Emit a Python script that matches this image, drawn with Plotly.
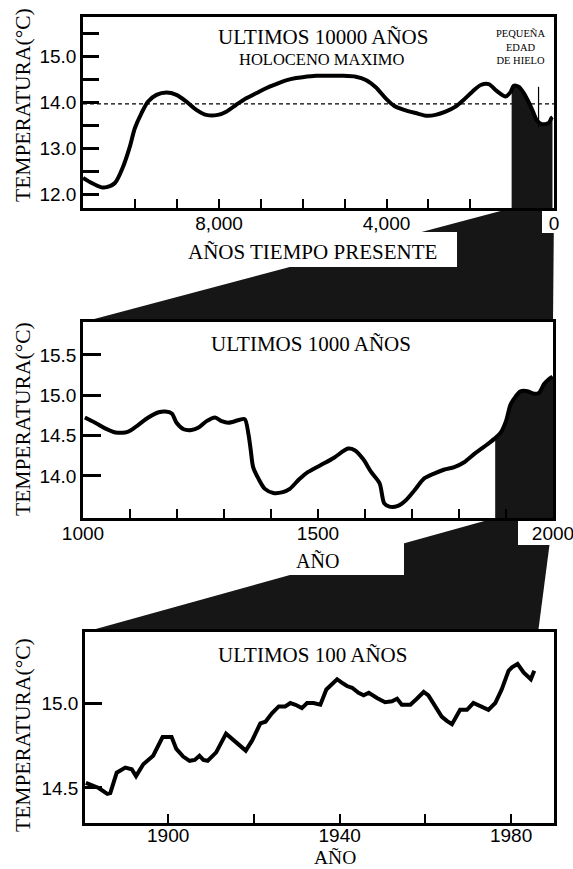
import numpy as np
import plotly.graph_objects as go

# ---------------- data ----------------
# Panel 1: last 10000 years (years before present)
bp1 = [11247, 11043, 10805, 10686, 10488, 10290, 10131, 10012, 9852, 9695,
       9495, 9257, 9019, 8781, 8543, 8305, 8029, 7829, 7590, 7352,
       7114, 6876, 6638, 6400, 6162, 6005, 5686, 5369, 5052, 4733,
       4495, 4257, 4019, 3821, 3583, 3305, 3028, 2829, 2590, 2352,
       2155, 1956, 1750, 1560, 1369, 1155, 1036, 964, 845, 726,
       607, 488, 417, 298, 131, 60, 36]
t1 = [12.35, 12.24, 12.145, 12.15, 12.24, 12.60, 13.03, 13.43, 13.76, 14.01,
      14.155, 14.205, 14.155, 14.01, 13.83, 13.72, 13.72, 13.79, 13.94, 14.08,
      14.19, 14.30, 14.39, 14.47, 14.52, 14.54, 14.57, 14.57, 14.57, 14.55,
      14.48, 14.32, 14.08, 13.92, 13.83, 13.76, 13.70, 13.72, 13.79, 13.90,
      14.05, 14.22, 14.37, 14.39, 14.24, 14.12, 14.22, 14.35, 14.33, 14.20,
      14.0, 13.76, 13.61, 13.52, 13.54, 13.65, 13.67]
baseline1 = 13.96
shade1_start_bp = 1012
lia_mark_bp = 369
lia_mark_temps = [14.33, 13.45]

# Panel 2: last 1000 years
yr2 = [1004, 1026, 1047, 1069, 1090, 1100, 1118, 1139, 1161, 1175,
       1189, 1199, 1214, 1231, 1246, 1263, 1281, 1295, 1309, 1330,
       1344, 1352, 1357, 1362, 1373, 1387, 1405, 1425, 1440, 1460,
       1479, 1514, 1535, 1564, 1578, 1596, 1613, 1631, 1641, 1652,
       1670, 1687, 1705, 1726, 1747, 1769, 1790, 1811, 1832, 1853,
       1875, 1889, 1900, 1910, 1921, 1931, 1946, 1960, 1970, 1981,
       1991, 1999]
t2 = [14.725, 14.66, 14.59, 14.54, 14.54, 14.56, 14.635, 14.725, 14.79, 14.80,
      14.775, 14.66, 14.58, 14.57, 14.60, 14.68, 14.725, 14.68, 14.66, 14.69,
      14.705, 14.52, 14.315, 14.11, 13.97, 13.84, 13.79, 13.80, 13.84, 13.96,
      14.05, 14.16, 14.23, 14.34, 14.32, 14.21, 14.05, 13.91, 13.66, 13.62,
      13.63, 13.70, 13.82, 13.97, 14.03, 14.08, 14.11, 14.17, 14.27, 14.36,
      14.46, 14.54, 14.68, 14.89, 14.99, 15.05, 15.05, 15.02, 15.03, 15.14,
      15.20, 15.23]
shade2_start_year = 1877

# Panel 3: last 100 years
yr3 = [1880.8, 1881.9, 1883.8, 1885.8, 1886.5, 1888.0, 1890.0, 1891.5, 1892.5, 1894.2,
       1896.5, 1898.7, 1900.8, 1901.9, 1903.5, 1905.0, 1906.2, 1907.3, 1908.2, 1909.2,
       1911.2, 1913.5, 1915.8, 1918.1, 1919.6, 1921.5, 1922.7, 1924.2, 1925.8, 1927.3,
       1928.5, 1929.7, 1931.2, 1932.4, 1933.9, 1935.5, 1936.9, 1937.8, 1939.4, 1940.5,
       1941.7, 1942.9, 1944.4, 1945.6, 1946.8, 1948.7, 1950.6, 1952.2, 1953.4, 1954.5,
       1956.5, 1958.0, 1959.6, 1960.7, 1962.3, 1963.8, 1965.0, 1966.2, 1968.1, 1969.7,
       1971.2, 1972.8, 1974.7, 1976.3, 1977.8, 1979.4, 1980.2, 1981.5, 1982.9, 1984.6,
       1985.4]
t3 = [14.53, 14.52, 14.50, 14.465, 14.47, 14.59, 14.62, 14.61, 14.57, 14.64,
      14.69, 14.80, 14.80, 14.73, 14.685, 14.66, 14.665, 14.69, 14.665, 14.66,
      14.71, 14.82, 14.77, 14.72, 14.78, 14.88, 14.89, 14.94, 14.98, 14.98,
      15.0, 14.99, 14.97, 15.0, 15.0, 14.99, 15.08, 15.10, 15.14, 15.12,
      15.10, 15.09, 15.06, 15.045, 15.06, 15.03, 15.005, 15.01, 15.025, 14.99,
      14.99, 15.025, 15.065, 15.045, 14.98, 14.92, 14.895, 14.875, 14.96, 14.96,
      15.0, 14.98, 14.96, 15.0, 15.08, 15.19, 15.21, 15.23, 15.18, 15.14,
      15.19]
wedge2_end_year = 1986.3

# tick labels
x1_ticks = [10000, 9000, 8000, 7000, 6000, 5000, 4000, 3000, 2000, 0]
x1_text = ["", "", "8,000", "", "", "", "4,000", "", "", "0"]
y1_ticks = [12.0, 12.5, 13.0, 13.5, 14.0, 14.5, 15.0, 15.5]
y1_text = ["12.0", "", "13.0", "", "14.0", "", "15.0", ""]
x2_ticks = [1000, 1100, 1200, 1300, 1400, 1500, 1600, 1700, 1800, 1900, 2000]
x2_text = ["1000", "", "", "", "", "1500", "", "", "", "", "2000"]
y2_ticks = [14.0, 14.5, 15.0, 15.5]
y2_text = ["14.0", "14.5", "15.0", "15.5"]
x3_ticks = [1900, 1920, 1940, 1960, 1980]
x3_text = ["1900", "", "1940", "", "1980"]
y3_ticks = [14.5, 15.0]
y3_text = ["14.5", "15.0"]

# ---------------- layout geometry (pixels) ----------------
W, H = 573, 869
P1 = dict(l=83, r=554, t=17, b=208, xr=[11250, 0], yr=[11.696, 15.848])
P2 = dict(l=83, r=553, t=322, b=518, xr=[1000, 2000], yr=[13.479, 15.909])
P3 = dict(l=85, r=554, t=632, b=823, xr=[1880.6, 1990], yr=[14.294, 15.418])


def px(x):
    return x / W


def py(y):
    return 1 - y / H


def dom(p):
    return [px(p["l"]), px(p["r"])], [py(p["b"]), py(p["t"])]


def data_to_paper_x(p, v):
    xd, _ = dom(p)
    r0, r1 = p["xr"]
    return xd[0] + (v - r0) / (r1 - r0) * (xd[1] - xd[0])


INK = "black"
SHADE = "#161616"
SANS = "Liberation Sans"
SERIF = "Liberation Serif"

fig = go.Figure()

# ---- panel 1 ----
fig.add_trace(go.Scatter(x=[P1["xr"][0], P1["xr"][1]], y=[baseline1, baseline1],
                         mode="lines", line=dict(color=INK, width=1.3, dash="4px,3px"),
                         xaxis="x", yaxis="y", hoverinfo="skip"))
bp1_arr = np.array(bp1)[::-1]
t1_arr = np.array(t1)[::-1]
s1_y0 = float(np.interp(shade1_start_bp, bp1_arr, t1_arr))
mask1 = np.array(bp1) < shade1_start_bp
fig.add_trace(go.Scatter(x=[shade1_start_bp] + list(np.array(bp1)[mask1]),
                         y=[s1_y0] + list(np.array(t1)[mask1]),
                         mode="lines", fill="tozeroy", fillcolor=SHADE,
                         line=dict(color=SHADE, width=0.5, shape="spline", smoothing=0.8),
                         xaxis="x", yaxis="y", hoverinfo="skip"))
fig.add_trace(go.Scatter(x=bp1, y=t1, mode="lines",
                         line=dict(color=INK, width=4, shape="spline", smoothing=0.8),
                         xaxis="x", yaxis="y"))
fig.add_trace(go.Scatter(x=[lia_mark_bp, lia_mark_bp], y=lia_mark_temps, mode="lines",
                         line=dict(color=INK, width=1.2), xaxis="x", yaxis="y"))

# ---- panel 2 ----
s2_y0 = float(np.interp(shade2_start_year, yr2, t2))
mask2 = np.array(yr2) > shade2_start_year
fig.add_trace(go.Scatter(x=[shade2_start_year] + list(np.array(yr2)[mask2]) + [P2["xr"][1]],
                         y=[s2_y0] + list(np.array(t2)[mask2]) + [t2[-1]],
                         mode="lines", fill="tozeroy", fillcolor=SHADE,
                         line=dict(color=SHADE, width=0.5, shape="spline", smoothing=0.8),
                         xaxis="x2", yaxis="y2", hoverinfo="skip"))
fig.add_trace(go.Scatter(x=yr2, y=t2, mode="lines",
                         line=dict(color=INK, width=4, shape="spline", smoothing=0.8),
                         xaxis="x2", yaxis="y2"))

# ---- panel 3 ----
fig.add_trace(go.Scatter(x=yr3, y=t3, mode="lines",
                         line=dict(color=INK, width=4, shape="linear"),
                         xaxis="x3", yaxis="y3"))

# ---- axes ----
tickfont = dict(family=SANS, size=19, color=INK)


def xax(p, tv, tt, anchor, standoff=-4):
    xd, _ = dom(p)
    return dict(domain=xd, range=p["xr"], anchor=anchor, showgrid=False, zeroline=False,
                showline=True, mirror=True, linecolor=INK, linewidth=2.5,
                ticks="inside", ticklen=9, tickwidth=2.2, tickcolor=INK,
                tickmode="array", tickvals=tv, ticktext=tt, tickfont=tickfont,
                ticklabeloverflow="allow", ticklabelstandoff=standoff,
                fixedrange=True, automargin=False)


def yax(p, tv, tt, anchor, tl):
    _, yd = dom(p)
    return dict(domain=yd, range=p["yr"], anchor=anchor, showgrid=False, zeroline=False,
                showline=True, mirror=True, linecolor=INK, linewidth=2.5,
                ticks="inside", ticklen=tl, tickwidth=2.6, tickcolor=INK,
                tickmode="array", tickvals=tv, ticktext=tt, tickfont=tickfont,
                ticklabeloverflow="allow",
                fixedrange=True, automargin=False)


# ---- connecting wedges and label boxes ----
x1d, y1d = dom(P1)
x2d, y2d = dom(P2)
x3d, y3d = dom(P3)
w1 = [(data_to_paper_x(P1, shade1_start_bp), y1d[0]), (x1d[1], y1d[0]),
      (x2d[1], y2d[1]), (x2d[0], y2d[1])]
w2 = [(data_to_paper_x(P2, shade2_start_year), y2d[0]), (x2d[1], y2d[0]),
      (data_to_paper_x(P3, wedge2_end_year), y3d[1]), (x3d[0], y3d[1])]


def path(pts):
    return "M " + " L ".join(f"{a:.5f},{b:.5f}" for a, b in pts) + " Z"


shapes = [
    dict(type="path", path=path(w1), xref="paper", yref="paper", fillcolor=SHADE,
         line=dict(width=0), layer="below"),
    dict(type="path", path=path(w2), xref="paper", yref="paper", fillcolor=SHADE,
         line=dict(width=0), layer="below"),
]
for (a, b, c, d) in [(180, 232, 457, 267), (542, 210, 562, 233),
                     (250, 542, 404, 575), (518, 520, 573, 545)]:
    shapes.append(dict(type="rect", xref="paper", yref="paper",
                       x0=px(a), x1=px(c), y0=py(d), y1=py(b),
                       fillcolor="white", line=dict(width=0), layer="below"))

ann = []


def text(t, x, y, size, angle=0, family=SERIF, yanchor="middle"):
    ann.append(dict(text=t, x=px(x), y=py(y), xref="paper", yref="paper",
                    showarrow=False, xanchor="center", yanchor=yanchor,
                    borderpad=0,
                    textangle=angle, font=dict(family=family, size=size, color=INK)))


text("ULTIMOS 10000 AÑOS", 323, 37, 21)
text("HOLOCENO MAXIMO", 322, 59, 16.5)
text("PEQUEÑA<br>EDAD<br>DE HIELO", 520, 47, 10.5)
text("AÑOS TIEMPO PRESENTE", 312, 252, 21)
text("ULTIMOS 1000 AÑOS", 311, 344, 21)
text("AÑO", 317, 560, 20)
text("ULTIMOS 100 AÑOS", 312, 655, 21)
text("AÑO", 335, 869, 19.5, yanchor="bottom")
for yc in (105, 419, 735):
    text("TEMPERATURA(°C)", 23, yc, 21.5, angle=-90)

fig.update_layout(
    width=W, height=H, margin=dict(l=0, r=0, t=0, b=0, autoexpand=False),
    paper_bgcolor="white", plot_bgcolor="rgba(0,0,0,0)",
    showlegend=False,
    xaxis=xax(P1, x1_ticks, x1_text, "y"),
    yaxis=yax(P1, y1_ticks, y1_text, "x", 16),
    xaxis2=xax(P2, x2_ticks, x2_text, "y2"),
    yaxis2=yax(P2, y2_ticks, y2_text, "x2", 18),
    xaxis3=xax(P3, x3_ticks, x3_text, "y3", standoff=-7),
    yaxis3=yax(P3, y3_ticks, y3_text, "x3", 17),
    shapes=shapes, annotations=ann,
)

fig.write_html("out.html", config={"displayModeBar": False})
